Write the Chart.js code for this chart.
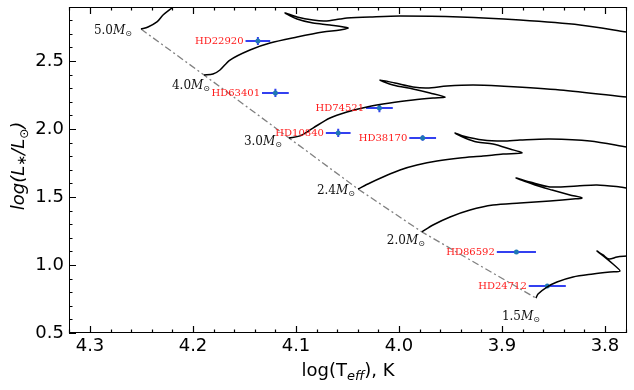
<!DOCTYPE html>
<html>
<head>
<meta charset="utf-8">
<script src="https://cdn.jsdelivr.net/npm/chart.js"></script>
<style>
  html, body { margin: 0; padding: 0; background: #fff; }
  canvas { display: block; }
</style>
</head>
<body>
<canvas id="hr" width="634" height="390"></canvas>
<script>
// Evolutionary tracks: log(Teff) and log(L/Lsun)
const t50 = [4.2505, 4.2437, 4.2350, 4.2291, 4.2194, 4.2155];
const l50 = [2.735, 2.750, 2.787, 2.838, 2.897, 2.926];

const t40 = [4.1893, 4.1806, 4.1738, 4.1641, 4.1447, 4.1252, 4.0990, 4.0738, 4.0573, 4.0495, 4.0670, 4.0835, 4.0990,
             4.1107, 4.0990, 4.0835, 4.0718, 4.0573, 4.0505, 4.0282, 3.9990, 3.9408, 3.8825, 3.8243, 3.7786];
const l40 = [2.397, 2.404, 2.434, 2.507, 2.581, 2.632, 2.676, 2.713, 2.728, 2.743, 2.765, 2.779, 2.809,
             2.853, 2.824, 2.801, 2.794, 2.809, 2.816, 2.824, 2.831, 2.824, 2.801, 2.765, 2.713];

const t30 = [4.1068, 4.0961, 4.0835, 4.0670, 4.0505, 4.0311, 4.0087, 3.9864, 3.9670, 3.9553, 3.9699,
             3.9864, 4.0058, 4.0184, 4.0039, 3.9864, 3.9728, 3.9534, 3.9281, 3.9019, 3.8437, 3.7786];
const l30 = [1.934, 1.949, 2.007, 2.081, 2.125, 2.162, 2.191, 2.213, 2.228, 2.235, 2.265,
             2.294, 2.324, 2.360, 2.338, 2.309, 2.301, 2.316, 2.324, 2.316, 2.287, 2.235];

const t24 = [4.0398, 4.0282, 4.0155, 3.9990, 3.9825, 3.9631, 3.9408, 3.9184, 3.8990, 3.8806, 3.8922,
             3.9087, 3.9243, 3.9359, 3.9456, 3.9378, 3.9184, 3.8990, 3.8825, 3.8534, 3.8146, 3.7786];
const l24 = [1.559, 1.603, 1.647, 1.699, 1.735, 1.765, 1.787, 1.801, 1.816, 1.824, 1.853,
             1.890, 1.904, 1.934, 1.971, 1.949, 1.919, 1.912, 1.919, 1.926, 1.912, 1.868];

const t20 = [3.9777, 3.9670, 3.9504, 3.9310, 3.9087, 3.8825, 3.8534, 3.8310, 3.8223, 3.8340,
             3.8514, 3.8679, 3.8864, 3.8728, 3.8534, 3.8271, 3.8078, 3.7854, 3.7786];
const l20 = [1.243, 1.294, 1.353, 1.404, 1.441, 1.456, 1.471, 1.485, 1.493, 1.515,
             1.551, 1.588, 1.640, 1.610, 1.574, 1.581, 1.588, 1.574, 1.566];

const t15 = [3.8670, 3.8650, 3.8563, 3.8466, 3.8310, 3.8116, 3.7951, 3.7854, 3.7922, 3.7990,
             3.8078, 3.8019, 3.7961, 3.7883, 3.7786];
const l15 = [0.757, 0.787, 0.838, 0.875, 0.912, 0.934, 0.949, 0.956, 1.007, 1.051,
             1.103, 1.074, 1.044, 1.059, 1.066];

// ZAMS line through the start of each track
const zamsT = [4.2505, 4.1893, 4.1068, 4.0398, 3.9777, 3.8670];
const zamsL = [2.735, 2.397, 1.934, 1.559, 1.243, 0.757];
const massLabels = ['5.0', '4.0', '3.0', '2.4', '2.0', '1.5'];

// Observed stars
const starNames = ['HD22920', 'HD63401', 'HD74521', 'HD10840', 'HD38170', 'HD86592', 'HD24712'];
const starT = [4.137, 4.120, 4.019, 4.059, 3.977, 3.886, 3.856];
const starL = [2.647, 2.265, 2.154, 1.971, 1.934, 1.096, 0.846];
const starTErr = [0.012, 0.013, 0.013, 0.012, 0.013, 0.019, 0.018];
const starLErr = [0.03, 0.03, 0.03, 0.03, 0.02, 0.01, 0.01];

const xTicks = [4.3, 4.2, 4.1, 4.0, 3.9, 3.8];
const yTicks = [0.5, 1.0, 1.5, 2.0, 2.5];

// label placement (px offsets of right edge / centre from the ZAMS point)
const massLabelOffset = [[-9, 0], [6, 9], [-7, 3], [-3, 1], [3, 8], [4, 17]];

const pts = (xs, ys) => xs.map((x, i) => ({ x, y: ys[i] }));

function track(xs, ys) {
  return {
    data: pts(xs, ys), showLine: true, pointRadius: 0,
    borderColor: '#000', borderWidth: 1.5, tension: 0.3
  };
}

function drawSegments(ctx, segs, x0, base) {
  let xx = x0;
  segs.forEach(([txt, font, dy]) => {
    ctx.font = font;
    ctx.fillText(txt, xx, base + dy);
    xx += ctx.measureText(txt).width;
  });
}

function segWidth(ctx, segs) {
  return segs.reduce((w, [txt, font]) => { ctx.font = font; return w + ctx.measureText(txt).width; }, 0);
}

const decor = {
  id: 'decor',
  beforeDatasetsDraw(chart) {
    const { ctx, scales: { x, y } } = chart;
    ctx.save();
    ctx.strokeStyle = '#3340f0';
    ctx.lineWidth = 2;
    starT.forEach((t, i) => {
      const px = x.getPixelForValue(t), py = y.getPixelForValue(starL[i]);
      ctx.beginPath();
      ctx.moveTo(x.getPixelForValue(t + starTErr[i]), py);
      ctx.lineTo(x.getPixelForValue(t - starTErr[i]), py);
      ctx.moveTo(px, y.getPixelForValue(starL[i] - starLErr[i]));
      ctx.lineTo(px, y.getPixelForValue(starL[i] + starLErr[i]));
      ctx.stroke();
    });
    ctx.restore();
  },
  afterDraw(chart) {
    const { ctx, chartArea: a, scales: { x, y } } = chart;
    ctx.save();

    // frame
    ctx.strokeStyle = '#000';
    ctx.lineWidth = 1;
    ctx.strokeRect(Math.round(a.left) + 0.5, Math.round(a.top) + 0.5,
      Math.round(a.right - a.left) - 1, Math.round(a.bottom - a.top) - 1);

    // inward ticks (bottom, top, left)
    ctx.lineWidth = 1.2;
    ctx.beginPath();
    for (let i = Math.ceil(x.min * 50); i <= Math.floor(x.max * 50); i++) {
      const px = Math.round(x.getPixelForValue(i / 50)) + 0.5;
      const len = i % 5 === 0 ? 7 : 3.5;
      ctx.moveTo(px, a.bottom); ctx.lineTo(px, a.bottom - len);
      ctx.moveTo(px, a.top); ctx.lineTo(px, a.top + len);
    }
    for (let i = Math.ceil(y.min * 10); i <= Math.floor(y.max * 10); i++) {
      const py = Math.round(y.getPixelForValue(i / 10)) + 0.5;
      const len = i % 5 === 0 ? 7 : 3.5;
      ctx.moveTo(a.left, py); ctx.lineTo(a.left + len, py);
    }
    ctx.stroke();

    // star names
    ctx.fillStyle = '#ff1a1a';
    ctx.font = '10px "DejaVu Serif"';
    ctx.textAlign = 'right';
    ctx.textBaseline = 'middle';
    starNames.forEach((n, i) => {
      ctx.fillText(n, x.getPixelForValue(starT[i] + starTErr[i]) - 2, y.getPixelForValue(starL[i]));
    });

    // mass labels
    ctx.fillStyle = '#111';
    ctx.textAlign = 'left';
    ctx.textBaseline = 'alphabetic';
    massLabels.forEach((m, i) => {
      const segs = [[m, '12px "DejaVu Serif"', 0], ['M', 'italic 12px "DejaVu Serif"', 0], ['\u2299', '8px "DejaVu Sans"', 2]];
      const right = x.getPixelForValue(zamsT[i]) + massLabelOffset[i][0];
      const cy = y.getPixelForValue(zamsL[i]) + massLabelOffset[i][1];
      drawSegments(ctx, segs, right - segWidth(ctx, segs), cy + 4.5);
    });

    // axis titles
    ctx.fillStyle = '#000';
    const xt = [['log(T', '18px "DejaVu Sans"', 0], ['eff', 'italic 13px "DejaVu Sans"', 4], ['), K', '18px "DejaVu Sans"', 0]];
    drawSegments(ctx, xt, 348 - segWidth(ctx, xt) / 2, 376);

    const yt = [['log(L', 'italic 18px "DejaVu Sans"', 0], ['\u2217', '13px "DejaVu Sans"', 2],
                ['/L', 'italic 18px "DejaVu Sans"', 0], ['\u2299', '12px "DejaVu Sans"', 4],
                [')', 'italic 18px "DejaVu Sans"', 0]];
    ctx.translate(24, 166);
    ctx.rotate(-Math.PI / 2);
    drawSegments(ctx, yt, -segWidth(ctx, yt) / 2, 0);
    ctx.restore();
  }
};

const tickFont = { family: 'DejaVu Sans', size: 18 };

new Chart(document.getElementById('hr'), {
  type: 'scatter',
  data: {
    datasets: [
      track(t50, l50), track(t40, l40), track(t30, l30),
      track(t24, l24), track(t20, l20), track(t15, l15),
      {
        data: pts(zamsT, zamsL), showLine: true, pointRadius: 0,
        borderColor: '#808080', borderWidth: 1.3, borderDash: [7, 3, 2, 3]
      },
      {
        data: pts(starT, starL), pointRadius: 2.5, pointBackgroundColor: '#1f77b4',
        pointBorderWidth: 0
      }
    ]
  },
  options: {
    responsive: false,
    animation: false,
    layout: { padding: { top: 7, right: 7, left: 0, bottom: 0 } },
    plugins: { legend: { display: false }, tooltip: { enabled: false } },
    scales: {
      x: {
        type: 'linear', reverse: true, min: 3.7786, max: 4.3204,
        afterBuildTicks: s => { s.ticks = xTicks.map(v => ({ value: v })); },
        afterFit: s => { s.height = 57; s.paddingLeft = 0; s.paddingRight = 0; },
        ticks: { font: tickFont, color: '#000', padding: 3, maxRotation: 0, callback: v => v.toFixed(1) },
        grid: { display: false, drawTicks: false },
        border: { display: false }
      },
      y: {
        type: 'linear', min: 0.5, max: 2.897,
        afterBuildTicks: s => { s.ticks = yTicks.map(v => ({ value: v })); },
        afterFit: s => { s.width = 69; s.paddingTop = 0; s.paddingBottom = 0; },
        ticks: { font: tickFont, color: '#000', padding: 5, callback: v => v.toFixed(1) },
        grid: { display: false, drawTicks: false },
        border: { display: false }
      }
    }
  },
  plugins: [decor]
});
</script>
</body>
</html>
